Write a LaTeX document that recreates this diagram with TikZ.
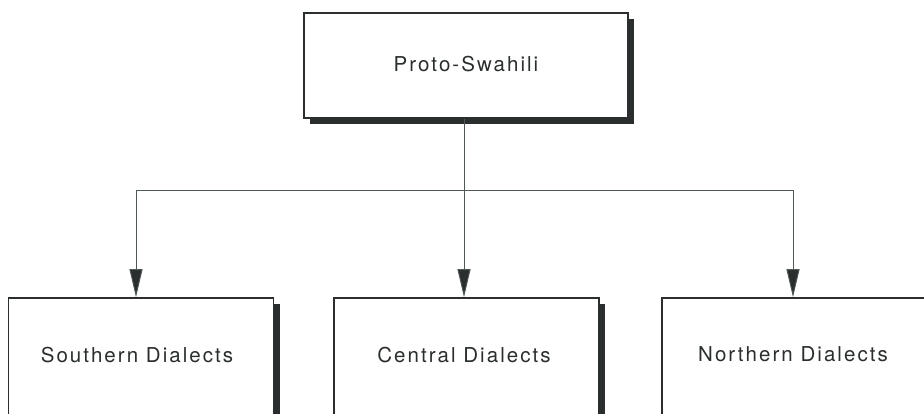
\documentclass[tikz,border=0pt]{standalone}
\usepackage{fontspec}
\setmainfont{TeX Gyre Heros}[LetterSpace=10]
\usetikzlibrary{arrows.meta,shadows}
\definecolor{ink}{HTML}{2A2E2E}
\definecolor{wire}{HTML}{505858}
\tikzset{
  dbox/.style={draw=ink, line width=1.6pt, fill=white, inner sep=0pt,
    minimum width=265pt, text=ink, font=\fontsize{20.5}{24}\selectfont,
    drop shadow={shadow xshift=6pt, shadow yshift=-6pt, fill=ink, opacity=1}},
  wireline/.style={draw=wire, line width=0.9pt},
  arr/.style={wireline, -{Triangle[length=28pt,width=13pt,fill=ink]}},
}
\begin{document}
\begin{tikzpicture}[x=1pt,y=1pt]
\useasboundingbox (0,0) rectangle (924,-414);
\clip (0,0) rectangle (924,-414);
\fill[white] (0,0) rectangle (924,-414);
\node[dbox, minimum width=324pt, minimum height=105pt] (proto) at (466,-65.5) {\raisebox{3pt}{Proto-Swahili}};
\node[dbox, minimum height=118pt] (south) at (141,-357) {\raisebox{5pt}{Southern Dialects}\hspace*{8pt}};
\node[dbox, minimum height=118pt] (central) at (466.5,-357) {\raisebox{5pt}{Central Dialects}\hspace*{5pt}};
\node[dbox, minimum height=118pt] (north) at (794.5,-357) {\raisebox{5pt}{Northern Dialects}\hspace*{3pt}};
\coordinate (junc) at (464,-190);
\coordinate (jl) at (136,-190);
\coordinate (jr) at (793,-190);
\draw[wireline] ([xshift=-2pt]proto.south) -- (junc);
\draw[wireline] (jl) -- (jr);
\draw[arr] (jl) -- (jl |- south.north);
\draw[arr] (junc) -- (junc |- central.north);
\draw[arr] (jr) -- (jr |- north.north);
\end{tikzpicture}
\end{document}
